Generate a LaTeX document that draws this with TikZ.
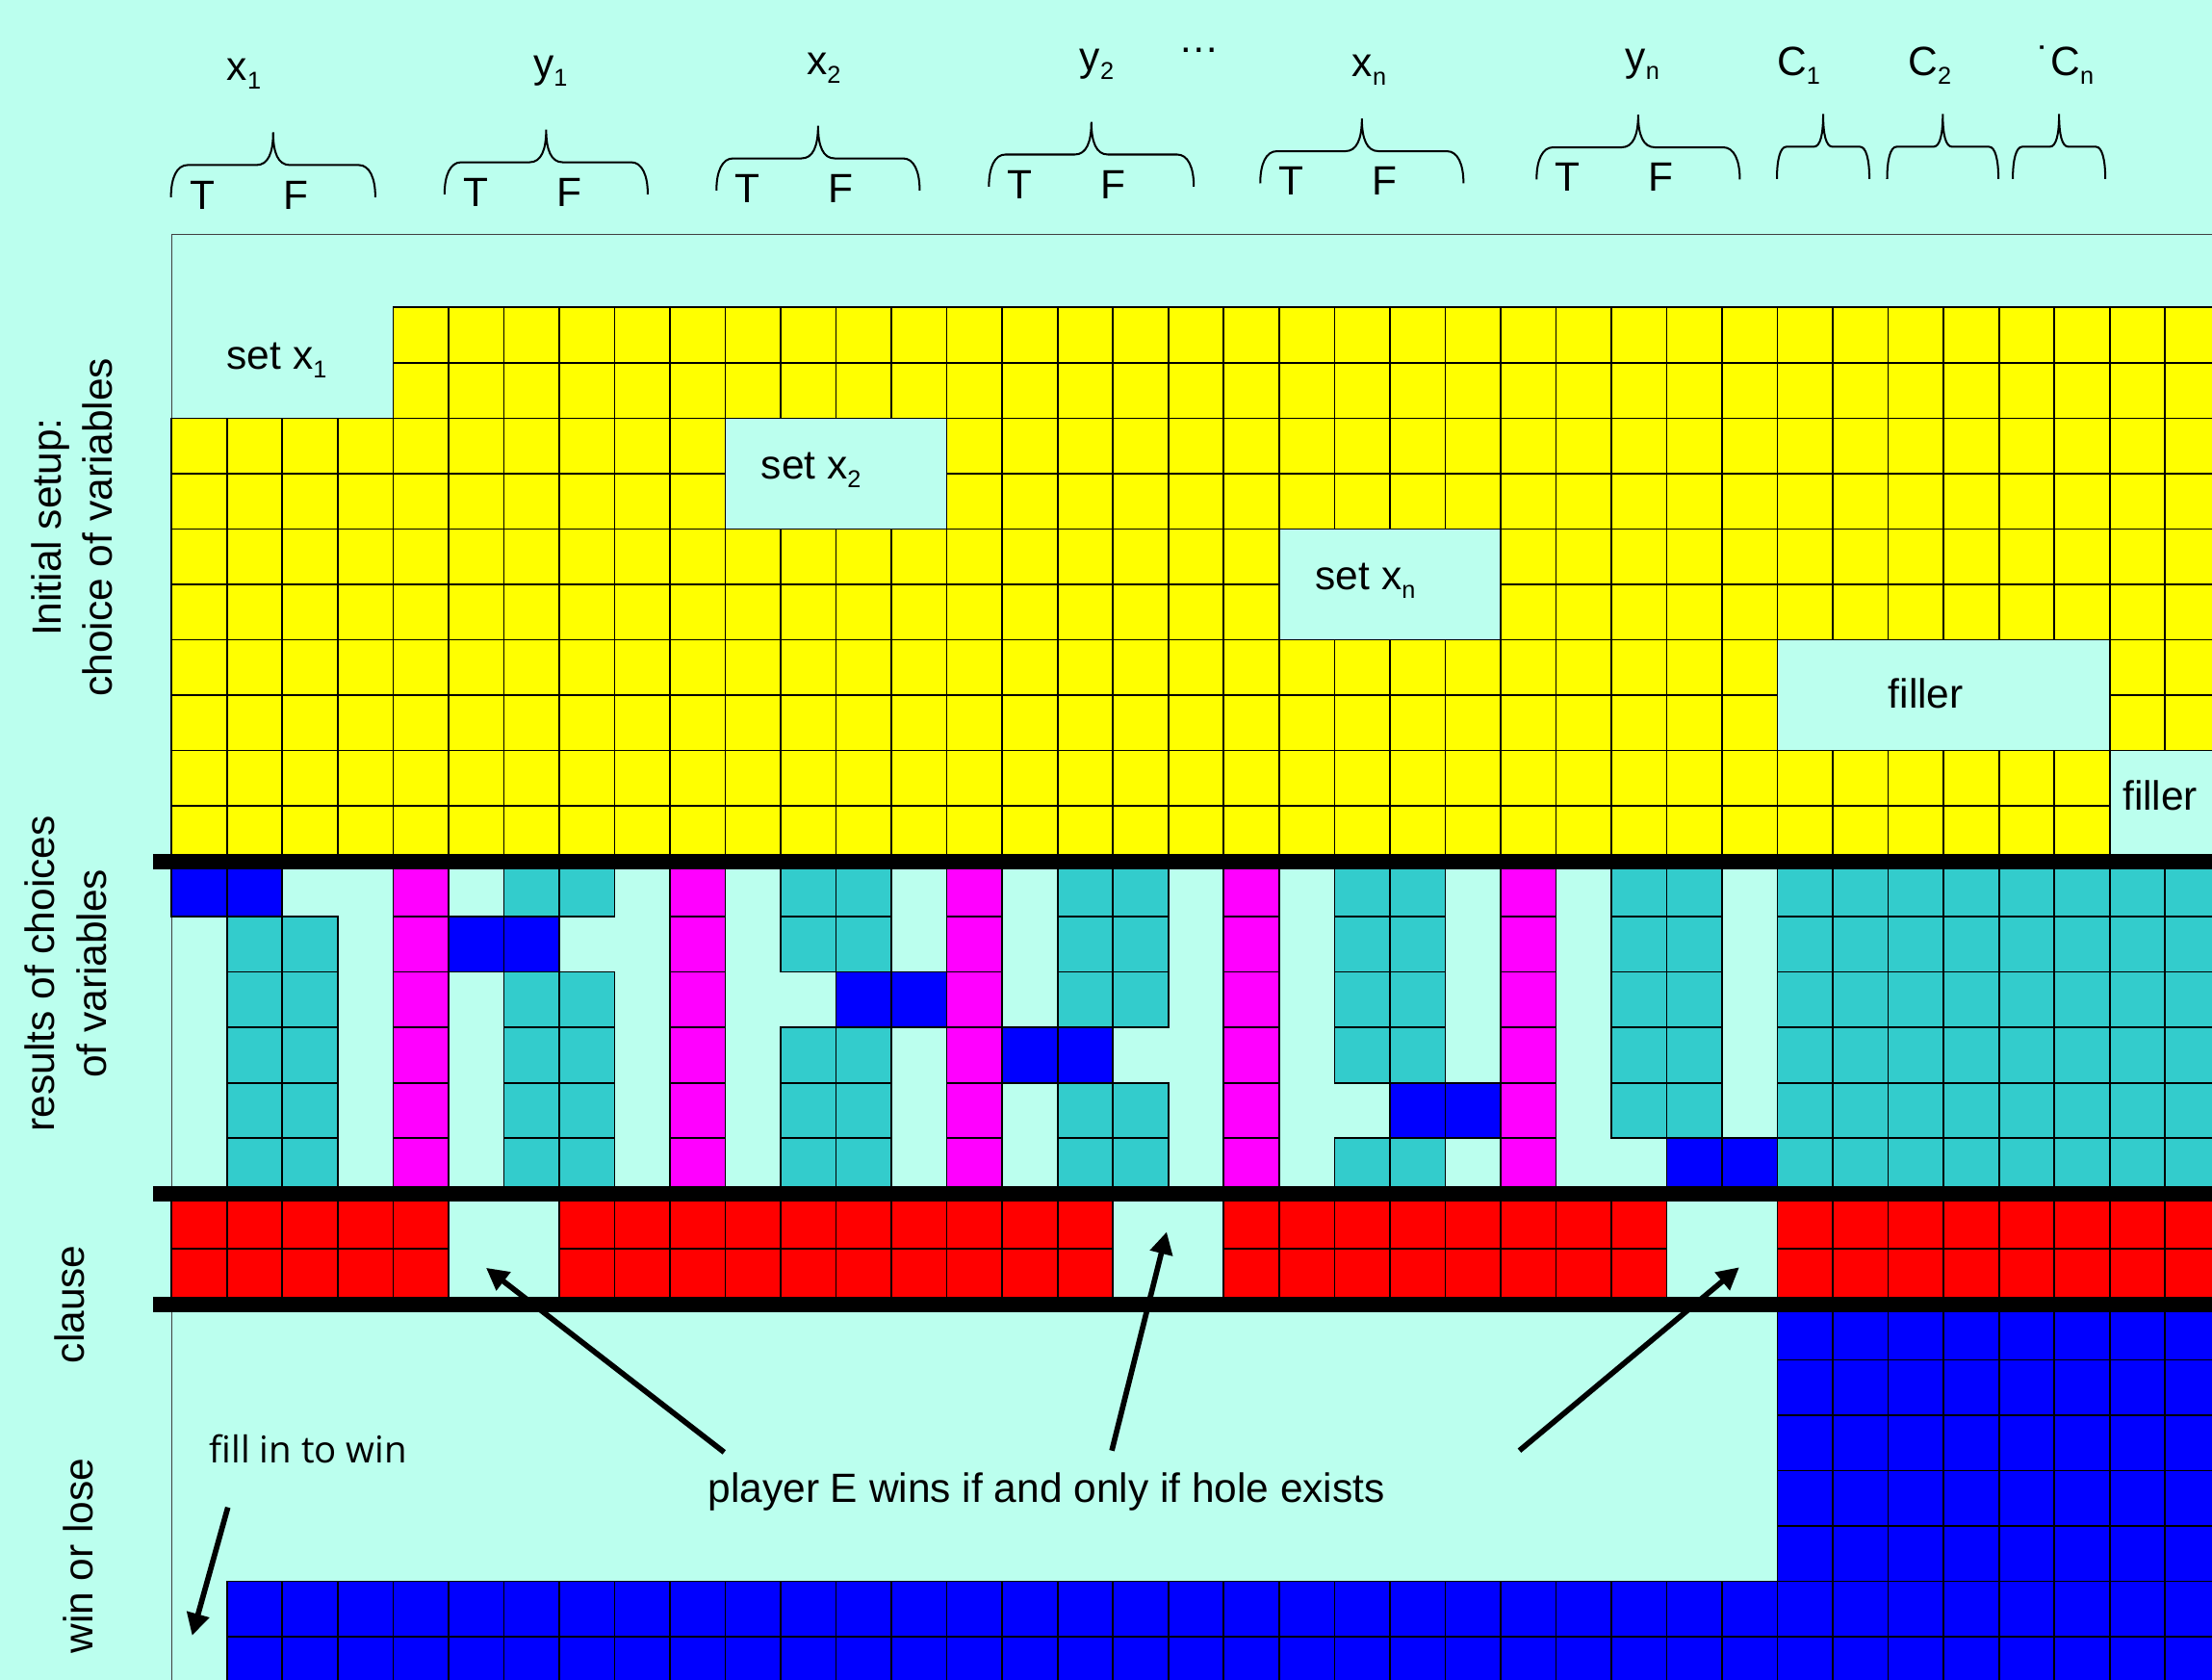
\documentclass[tikz,border=0pt]{standalone}
\usepackage{fontspec}
\setmainfont{Liberation Sans}
\newfontfamily\handfont{Open Sans}
\usetikzlibrary{arrows.meta}
\definecolor{bgcyan}{RGB}{187,255,238}
\definecolor{cellteal}{RGB}{51,204,204}
\definecolor{cellyellow}{RGB}{255,255,0}
\definecolor{cellmagenta}{RGB}{255,0,255}
\definecolor{cellblue}{RGB}{0,0,255}
\definecolor{cellred}{RGB}{255,0,0}
\newcommand\idx[1]{\raisebox{-4.5pt}{\fontsize{12.5}{12.5}\selectfont #1}}

\begin{document}
\begin{tikzpicture}[x=1cm,y=1cm,
    cell/.style={draw=black,line width=0.8pt},
    txt/.style={font=\fontsize{21}{26.4}\selectfont,inner sep=0pt},
    sidetxt/.style={txt,rotate=90,align=center},
    bracepen/.style={line width=1pt},
    sepline/.style={line width=0.28cm},
    pointer/.style={line width=2.8pt,-{Triangle[length=0.4cm,width=0.4cm]}},
    frame/.style={line width=0.6pt,black!75}]

    % Rahmen
    \useasboundingbox (-3.0975,-24.782) rectangle (36.847,5.55);
    \clip (-3.0975,-24.782) rectangle (36.847,5.55);
    \fill[bgcyan] (-3.0975,-24.782) rectangle (36.847,5.55);
    \draw[frame] (0,-25) -- (0,1.321) -- (37,1.321);

    % initial setup
    \foreach \ra/\ca/\cb in {0/4/36,2/0/9,2/14/36,4/0/19,4/24/36,6/0/28,6/35/36,8/0/34} {
        \foreach \c in {\ca,...,\cb} {
            \draw[cell,fill=cellyellow] (\c,-\ra) rectangle ++(1,-1);
            \draw[cell,fill=cellyellow] (\c,-\ra-1) rectangle ++(1,-1);
        }
    }
    \node[txt,anchor=base] (setx1) at (1.90,-1.11) {set x\idx{1}};
    \node[txt,anchor=base] (setx2) at (11.55,-3.09) {set x\idx{2}};
    \node[txt,anchor=base] (setxn) at (21.56,-5.10) {set x\idx{n}};
    \node[txt,anchor=base] (filler1) at (31.68,-7.24) {filler};
    \node[txt,anchor=base] (filler2) at (35.91,-9.08) {filler};

    % results of choices
    \foreach \c in {4,9,14,19,24}
        \foreach \r in {10,...,15}
            \draw[cell,fill=cellmagenta] (\c,-\r) rectangle ++(1,-1);
    \foreach \c/\gap in {1/10,2/10,6/11,7/11,11/12,12/12,16/13,17/13,21/14,22/14,26/15,27/15} {
        \foreach \r in {10,...,15} {
            \ifnum\r=\gap\relax\else
                \draw[cell,fill=cellteal] (\c,-\r) rectangle ++(1,-1);
            \fi
        }
    }
    \foreach \c in {29,...,36}
        \foreach \r in {10,...,15}
            \draw[cell,fill=cellteal] (\c,-\r) rectangle ++(1,-1);
    \foreach \c/\r in {0/10,1/10,5/11,6/11,12/12,13/12,15/13,16/13,22/14,23/14,27/15,28/15}
        \draw[cell,fill=cellblue] (\c,-\r) rectangle ++(1,-1);

    % clause
    \foreach \ca/\cb in {0/4,7/16,19/26,29/36} {
        \foreach \c in {\ca,...,\cb} {
            \draw[cell,fill=cellred] (\c,-16) rectangle ++(1,-1);
            \draw[cell,fill=cellred] (\c,-17) rectangle ++(1,-1);
        }
    }

    % win or lose
    \foreach \c in {29,...,36}
        \foreach \r in {18,...,22}
            \draw[cell,fill=cellblue] (\c,-\r) rectangle ++(1,-1);
    \foreach \c in {1,...,36}
        \foreach \r in {23,24}
            \draw[cell,fill=cellblue] (\c,-\r) rectangle ++(1,-1);

    % separators
    \foreach \r in {10,16,18}
        \draw[sepline] (-0.334,-\r) -- (37,-\r);

    % braces
    \foreach \bl/\br/\bb/\cw in {-0.01/3.68/1.99/0.3,4.93/8.60/2.04/0.3,9.84/13.51/2.11/0.3,
            14.76/18.46/2.18/0.3,19.66/23.33/2.24/0.3,24.65/28.32/2.31/0.3,
            28.99/30.66/2.32/0.17,30.98/32.99/2.32/0.17,33.25/34.92/2.32/0.17} {
        \pgfmathsetmacro\bm{(\bl+\br)/2}
        \draw[bracepen] (\bl,\bb) .. controls (\bl,\bb+0.35) and ({\bl+0.35*\cw},\bb+0.58) .. ({\bl+\cw},\bb+0.58)
            -- ({\bm-\cw},\bb+0.58) .. controls ({\bm-0.3*\cw},\bb+0.58) and (\bm,\bb+0.8) .. (\bm,\bb+1.17)
            .. controls (\bm,\bb+0.8) and ({\bm+0.3*\cw},\bb+0.58) .. ({\bm+\cw},\bb+0.58)
            -- ({\br-\cw},\bb+0.58) .. controls ({\br-0.35*\cw},\bb+0.58) and (\br,\bb+0.35) .. (\br,\bb);
    }
    \foreach \bl/\bb [count=\i] in {-0.01/1.99,4.93/2.04,9.84/2.11,14.76/2.18,19.66/2.24,24.65/2.31} {
        \node[txt,anchor=base] (t\i) at ({\bl+0.565},{\bb-0.214}) {T};
        \node[txt,anchor=base] (f\i) at ({\bl+2.25},{\bb-0.214}) {F};
    }

    % variables and clauses
    \node[txt,anchor=base] (varx1) at (1.31,4.10) {x\idx{1}};
    \node[txt,anchor=base] (vary1) at (6.84,4.15) {y\idx{1}};
    \node[txt,anchor=base] (varx2) at (11.78,4.20) {x\idx{2}};
    \node[txt,anchor=base] (vary2) at (16.71,4.27) {y\idx{2}};
    \node[txt,anchor=base] (vardots) at (18.56,4.61) {…};
    \node[txt,anchor=base] (varxn) at (21.63,4.17) {x\idx{n}};
    \node[txt,anchor=base] (varyn) at (26.56,4.28) {y\idx{n}};
    \node[txt,anchor=base] (varc1) at (29.38,4.19) {C\idx{1}};
    \node[txt,anchor=base] (varc2) at (31.75,4.19) {C\idx{2}};
    \node[txt,anchor=base] (varcn) at (34.20,4.19) {˙C\idx{n}};

    % side labels
    \node[sidetxt] (lblsetup) at (-1.80,-3.97) {Initial setup:\\choice of variables};
    \node[sidetxt] (lblresults) at (-1.91,-12.03) {results of choices\\of variables};
    \node[sidetxt] (lblclause) at (-1.84,-18.00) {clause};
    \node[sidetxt] (lblwin) at (-1.69,-22.54) {win or lose};

    % notes and arrows
    \node[txt,anchor=base,font=\handfont\fontsize{19}{23}\selectfont] (fillwin) at (2.47,-20.87) {fill in to win};
    \node[txt,anchor=base] (holetext) at (15.80,-21.57) {player E wins if and only if hole exists};
    \coordinate (fillfrom) at (1.017,-21.665);
    \coordinate (filltip) at (0.372,-23.98);
    \coordinate (from1) at (9.98,-20.67);
    \coordinate (from2) at (16.98,-20.64);
    \coordinate (from3) at (24.34,-20.64);
    \coordinate (hole1) at (5.68,-17.34);
    \coordinate (hole2) at (17.97,-16.69);
    \coordinate (hole3) at (28.31,-17.33);
    \draw[pointer] (fillfrom) -- (filltip);
    \draw[pointer] (from1) -- (hole1);
    \draw[pointer] (from2) -- (hole2);
    \draw[pointer] (from3) -- (hole3);
\end{tikzpicture}
\end{document}
